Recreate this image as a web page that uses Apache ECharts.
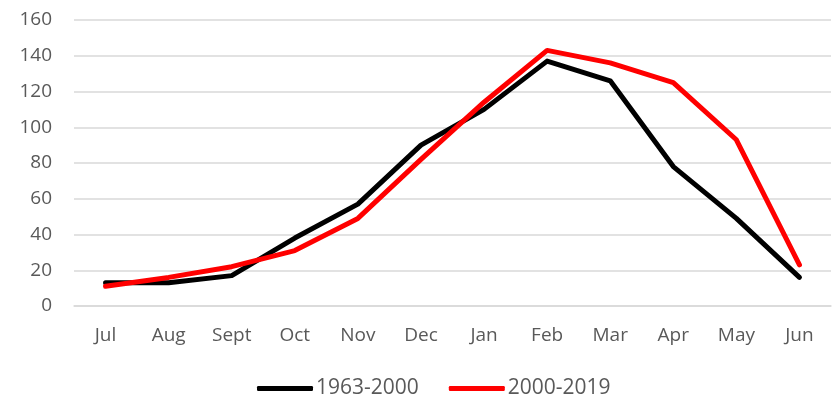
<!DOCTYPE html>
<html>
<head>
<meta charset="utf-8">
<script src="https://cdn.jsdelivr.net/npm/echarts@6/dist/echarts.min.js"></script>
<style>
    html, body { margin: 0; padding: 0; background: #fff; }
    #chart { width: 832px; height: 401px; }
</style>
</head>
<body>
<div id="chart"></div>
<script>
    // months (Jul -> Jun)
    const months = ['Jul', 'Aug', 'Sept', 'Oct', 'Nov', 'Dec', 'Jan', 'Feb', 'Mar', 'Apr', 'May', 'Jun'];
    const seriesNames = ['1963-2000', '2000-2019'];
    const values1963 = [13, 13, 17, 38, 57, 90, 110, 137, 126, 78, 49, 16];
    const values2000 = [11, 16, 22, 31, 49, 82, 114, 143, 136, 125, 93, 23];
    const colors = ['#000000', '#ff0000'];

    const myChart = echarts.init(document.getElementById('chart'));
    const labelFont = 'Open Sans, Liberation Sans, sans-serif';
    const option = {
        color: colors,
        animation: false,
        grid: {
            left: 74,
            right: 1,
            top: 20,
            bottom: 95
        },
        legend: {
            left: 252,
            top: 373,
            itemWidth: 56,
            itemHeight: 5,
            itemGap: 30,
            icon: 'roundRect',
            textStyle: {
                fontSize: 21,
                color: '#595959',
                fontFamily: labelFont,
                padding: [0, 0, 0, -2]
            },
            data: seriesNames
        },
        //横坐标
        xAxis: {
            type: 'category',
            boundaryGap: true,
            data: months,
            axisLine: { lineStyle: { color: '#d9d9d9', width: 1.5 } },
            axisTick: { show: false },
            axisLabel: {
                fontSize: 19,
                color: '#595959',
                fontFamily: labelFont,
                margin: 20
            }
        },
        //纵坐标
        yAxis: {
            type: 'value',
            min: 0,
            max: 160,
            interval: 20,
            axisLine: { show: false },
            axisTick: { show: false },
            axisLabel: {
                fontSize: 19,
                color: '#595959',
                fontFamily: labelFont,
                margin: 22
            },
            splitLine: { lineStyle: { color: '#d9d9d9', width: 1.5 } }
        },
        series: [
            {
                name: seriesNames[0],
                type: 'line',
                data: values1963,
                symbol: 'none',
                lineStyle: { width: 5, cap: 'round', join: 'round' }
            },
            {
                name: seriesNames[1],
                type: 'line',
                data: values2000,
                symbol: 'none',
                lineStyle: { width: 5, cap: 'round', join: 'round' }
            }
        ]
    };
    myChart.setOption(option);
</script>
</body>
</html>
